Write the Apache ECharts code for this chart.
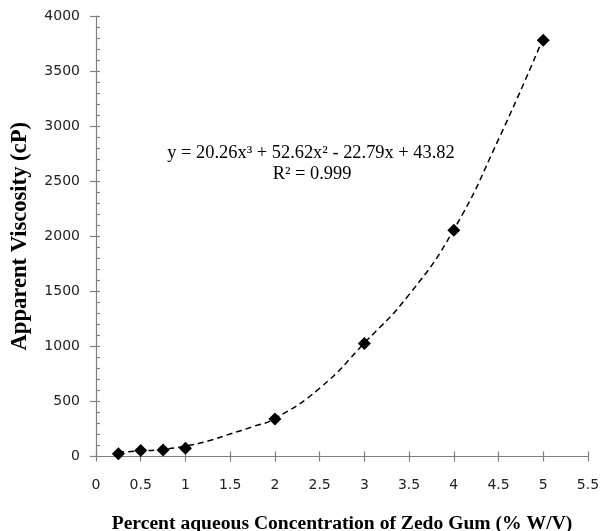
<!DOCTYPE html>
<html>
<head>
<meta charset="utf-8">
<script src="https://cdn.jsdelivr.net/npm/echarts@6/dist/echarts.min.js"></script>
<style>
html,body{margin:0;padding:0;background:#fff;}
#chart{width:601px;height:531px;}
</style>
</head>
<body>
<div id="chart"></div>
<script>
// Measured data points (concentration % W/V, apparent viscosity cP)
const concentrations = [0.25, 0.5, 0.75, 1, 2, 3, 4, 5];
const viscosities = [25, 55, 60, 75, 340, 1025, 2055, 3780];
// Trendline
const trendX = [0.25, 0.5, 0.75, 1, 1.25, 1.5, 1.75, 2, 2.5, 3, 3.5, 4, 4.5, 5];
const trendY = [40, 50, 65, 95, 140, 205, 270, 345, 620, 1030, 1470, 2060, 2880, 3800];
// Tick labels / axes
const xTicks = [0, 0.5, 1, 1.5, 2, 2.5, 3, 3.5, 4, 4.5, 5, 5.5];
const yTicks = [0, 500, 1000, 1500, 2000, 2500, 3000, 3500, 4000];
const xTitle = 'Percent aqueous Concentration of Zedo Gum (% W/V)';
const yTitle = 'Apparent Viscosity (cP)';
const eqLine1 = 'y = 20.26x\u00B3 + 52.62x\u00B2 - 22.79x + 43.82';
const eqLine2 = 'R\u00B2 = 0.999';

const axisColor = '#7f7f7f';
const labelFont = {fontFamily: 'DejaVu Sans', fontSize: 14, color: '#222'};
const xNameFont = {fontFamily: 'Liberation Serif', fontWeight: 'bold', fontSize: 19.6, color: '#000'};
const yNameFont = {fontFamily: 'Liberation Serif', fontWeight: 'bold', fontSize: 22.6, color: '#000'};

const chart = echarts.init(document.getElementById('chart'), null, {renderer: 'canvas'});
const xMin = xTicks[0], xMax = xTicks[xTicks.length - 1], xInt = xTicks[1] - xTicks[0];
const yMin = yTicks[0], yMax = yTicks[yTicks.length - 1], yInt = yTicks[1] - yTicks[0];

chart.setOption({
  backgroundColor: '#fff',
  animation: false,
  grid: {left: 96, right: 13, top: 16, bottom: 74.5, containLabel: false, outerBoundsMode: 'none'},
  xAxis: [{
    type: 'value', min: xMin, max: xMax, interval: xInt, position: 'bottom',
    axisLine: {show: true, lineStyle: {color: axisColor, width: 1.2}},
    axisTick: {show: true, inside: false, length: 5, lineStyle: {color: axisColor, width: 1.2}},
    axisLabel: Object.assign({margin: 22, formatter: v => String(v)}, labelFont),
    splitLine: {show: false},
    name: xTitle, nameLocation: 'middle', nameGap: 57, nameTextStyle: xNameFont
  }, {
    type: 'value', min: xMin, max: xMax, interval: xInt, position: 'bottom', offset: 0,
    axisLine: {show: false},
    axisTick: {show: true, inside: true, length: 5, lineStyle: {color: axisColor, width: 1.2}},
    axisLabel: {show: false},
    splitLine: {show: false}
  }],
  yAxis: [{
    type: 'value', min: yMin, max: yMax, interval: yInt, position: 'left',
    axisLine: {show: true, lineStyle: {color: axisColor, width: 1.2}},
    axisTick: {show: true, inside: false, length: 6, lineStyle: {color: axisColor, width: 1.2}},
    axisLabel: Object.assign({margin: 16, formatter: v => String(v)}, labelFont),
    splitLine: {show: false},
    name: yTitle, nameLocation: 'middle', nameGap: 64, nameRotate: 90, nameTextStyle: yNameFont
  }, {
    type: 'value', min: yMin, max: yMax, interval: yInt, position: 'left', offset: 0,
    axisLine: {show: false},
    axisTick: {show: true, inside: true, length: 4, lineStyle: {color: axisColor, width: 1.2}},
    minorTick: {show: true, splitNumber: 5, length: 4, lineStyle: {color: axisColor, width: 1.2}},
    axisLabel: {show: false},
    splitLine: {show: false}
  }],
  graphic: [{
    type: 'text',
    style: {text: eqLine1, x: 311, y: 153, textAlign: 'center', textVerticalAlign: 'middle',
      font: '18.4px "Liberation Serif"', fill: '#000'}
  }, {
    type: 'text',
    style: {text: eqLine2, x: 312, y: 174, textAlign: 'center', textVerticalAlign: 'middle',
      font: '18.4px "Liberation Serif"', fill: '#000'}
  }],
  series: [{
    type: 'line', xAxisIndex: 0, yAxisIndex: 0,
    data: trendX.map((x, i) => [x, trendY[i]]),
    smooth: true, showSymbol: false, symbol: 'none',
    lineStyle: {color: '#000', width: 1.5, type: [6, 4]},
    z: 2, silent: true
  }, {
    type: 'scatter', xAxisIndex: 0, yAxisIndex: 0,
    data: concentrations.map((x, i) => [x, viscosities[i]]),
    symbol: 'diamond', symbolSize: 13,
    itemStyle: {color: '#000', opacity: 1},
    z: 3
  }]
});
</script>
</body>
</html>
